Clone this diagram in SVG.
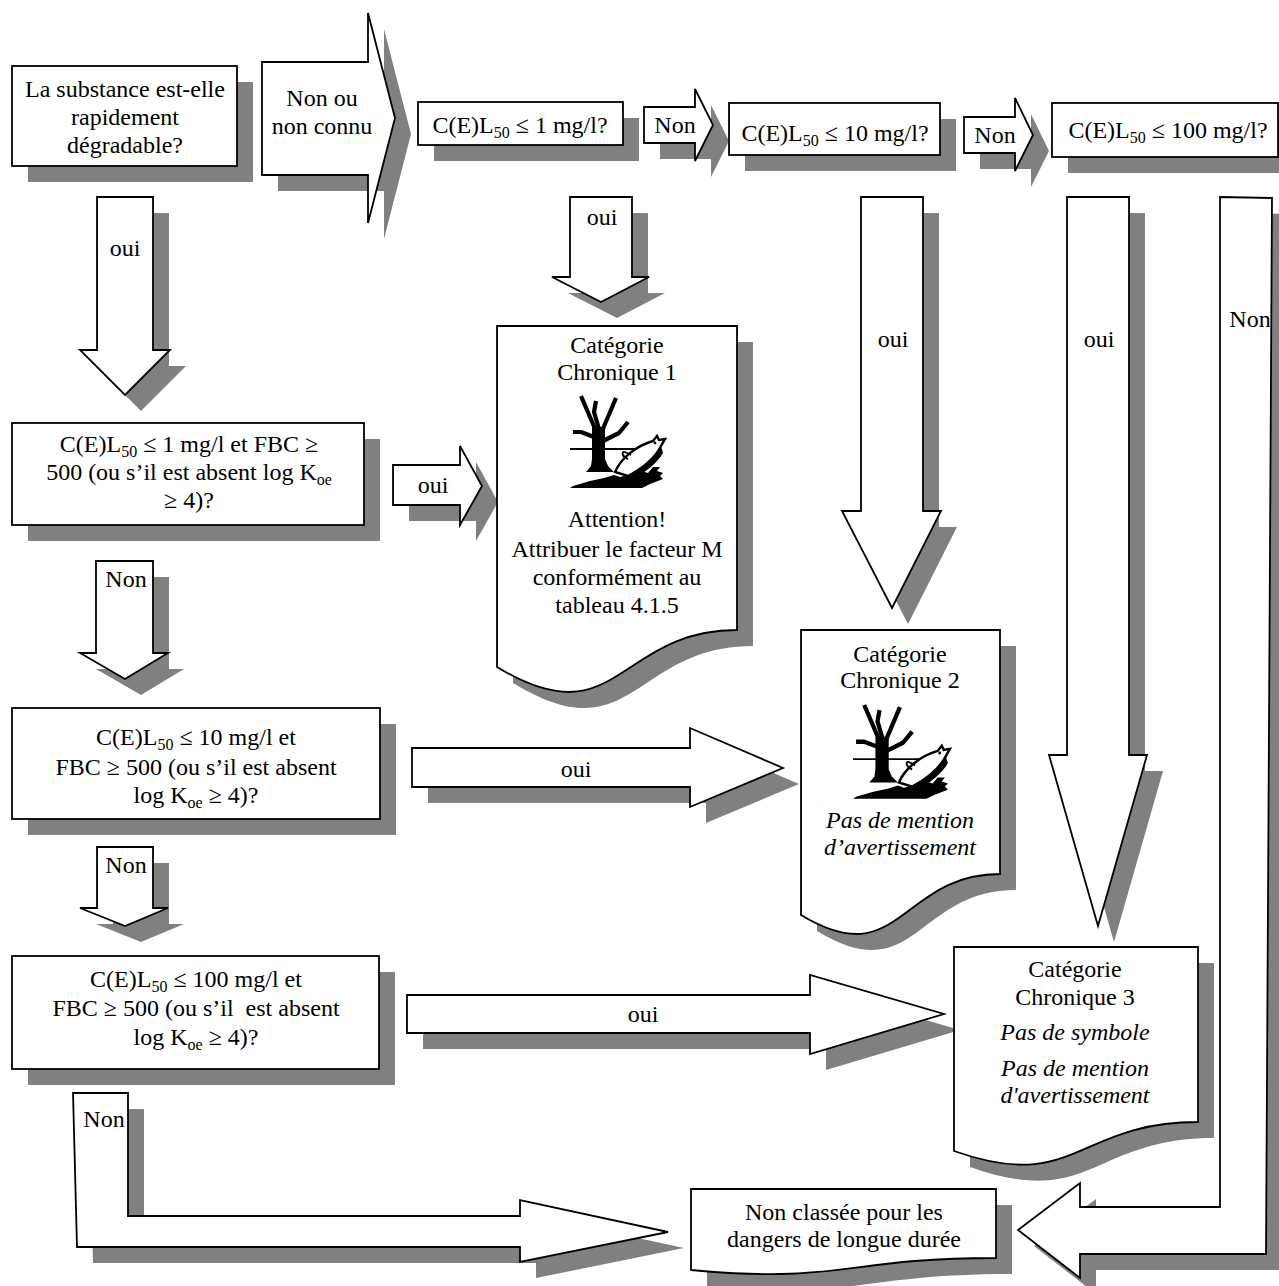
<svg xmlns="http://www.w3.org/2000/svg" xmlns:xlink="http://www.w3.org/1999/xlink" width="1279" height="1286" viewBox="0 0 1279 1286">
<style>
.sh{fill:#808080;stroke:none}
.nd{fill:#fff;stroke:#000;stroke-width:1.8;stroke-linejoin:miter}
text{font-family:"Liberation Serif","Times New Roman",serif;font-size:24px;fill:#000;text-anchor:middle}
.it{font-style:italic}
.sub{font-size:16px}
</style>
<defs>
<g id="pict">
  <path d="M22,32 L35,32 L35,64 L38,71 L44,77 L16,77 L21,71 L22,64 Z" fill="#000"/>
  <g stroke="#000" stroke-width="4.2" fill="none" stroke-linecap="butt" stroke-linejoin="round">
    <path d="M26,36 L11,1"/>
    <path d="M29,34 L24,17 L26,6"/>
    <path d="M32,36 L46,3"/>
    <path d="M24,42 L11,37 L3,37"/>
    <path d="M33,46 L49,38 L58,27"/>
  </g>
  <path d="M0,54 H66" stroke="#000" stroke-width="1.8"/>
  <path d="M45,77 C51,63 66,51 83,46 L87,41 L89,45 L95,44 L91,51 C86,61 75,72 58,81 Z" fill="#fff" stroke="#000" stroke-width="2.4" stroke-linejoin="miter"/>
  <path d="M58,81 C75,72 86,61 91,51 L93,58 C87,68 77,77 60,85 Z" fill="#000"/>
  <path d="M58,64 C52,62 51,56 55,57 L61,60" fill="none" stroke="#000" stroke-width="1.8"/>
  <circle cx="85" cy="48" r="1.4" fill="#000"/>
  <path d="M0,93 L3,91 L20,86 L34,83 L44,80 L50,82 L58,80 L66,81 L72,76 L78,78 L83,72 L90,72 L87,76 L93,78 L90,81 L93,84 L80,89 L72,93 Z" fill="#000"/>
</g>
</defs>

<g id="connectors">
  <g id="shadows-connectors" class="sh" transform="translate(16,16)">
    <polygon points="262,62 368,62 368,13 395,118 368,223 368,175 262,175"/>
    <polygon points="97,197 153,197 153,350 170,350 125,395 80,350 97,350"/>
    <polygon points="393,465 460,465 460,446 482,486 460,525 460,505 393,505"/>
    <polygon points="96,561 153,561 153,653 168,653 125,679 80,653 96,653"/>
    <polygon points="97,847 153,847 153,908 168,908 125,926 80,908 97,908"/>
    <polygon points="73,1093 128,1093 128,1216 520,1216 520,1200 668,1232 520,1262 520,1247 77,1247"/>
    <polygon points="644,107 695,107 695,89 713,125 695,161 695,143 644,143"/>
    <polygon points="964,117 1015,117 1015,98 1033,135 1015,171 1015,153 964,153"/>
    <polygon points="570,197 632,197 632,277 649,277 601,302 552,277 570,277"/>
    <polygon points="861,197 923,197 923,511 941,511 892,608 842,511 861,511"/>
    <polygon points="1067,197 1129,197 1129,755 1147,755 1098,926 1049,755 1067,755"/>
    <polygon points="1220,197 1272,198 1266,1254 1080,1254 1080,1278 1018,1230 1080,1183 1080,1207 1220,1207"/>
    <polygon points="412,748 690,748 690,728 783,768 690,807 690,787 412,787"/>
    <polygon points="407,995 810,995 810,975 944,1014 810,1054 810,1033 407,1033"/>
  </g>
  <g id="arrow-non-connu">
    <polygon class="nd" points="262,62 368,62 368,13 395,118 368,223 368,175 262,175"/>
    <text x="322" y="106">Non ou</text>
    <text x="322" y="134">non connu</text>
  </g>
  <g id="arrow-oui-1">
    <polygon class="nd" points="97,197 153,197 153,350 170,350 125,395 80,350 97,350"/>
    <text x="125" y="256">oui</text>
  </g>
  <g id="arrow-oui-2">
    <polygon class="nd" points="393,465 460,465 460,446 482,486 460,525 460,505 393,505"/>
    <text x="433" y="493">oui</text>
  </g>
  <g id="arrow-non-2">
    <polygon class="nd" points="96,561 153,561 153,653 168,653 125,679 80,653 96,653"/>
    <text x="126" y="587">Non</text>
  </g>
  <g id="arrow-non-3">
    <polygon class="nd" points="97,847 153,847 153,908 168,908 125,926 80,908 97,908"/>
    <text x="126" y="873">Non</text>
  </g>
  <g id="arrow-non-4">
    <polygon class="nd" points="73,1093 128,1093 128,1216 520,1216 520,1200 668,1232 520,1262 520,1247 77,1247"/>
    <text x="104" y="1127">Non</text>
  </g>
  <g id="arrow-non-top1">
    <polygon class="nd" points="644,107 695,107 695,89 713,125 695,161 695,143 644,143"/>
    <text x="675" y="133">Non</text>
  </g>
  <g id="arrow-non-top2">
    <polygon class="nd" points="964,117 1015,117 1015,98 1033,135 1015,171 1015,153 964,153"/>
    <text x="995" y="143">Non</text>
  </g>
  <g id="arrow-oui-top1">
    <polygon class="nd" points="570,197 632,197 632,277 649,277 601,302 552,277 570,277"/>
    <text x="602" y="225">oui</text>
  </g>
  <g id="arrow-oui-top2">
    <polygon class="nd" points="861,197 923,197 923,511 941,511 892,608 842,511 861,511"/>
    <text x="893" y="347">oui</text>
  </g>
  <g id="arrow-oui-top3">
    <polygon class="nd" points="1067,197 1129,197 1129,755 1147,755 1098,926 1049,755 1067,755"/>
    <text x="1099" y="347">oui</text>
  </g>
  <g id="arrow-non-right">
    <polygon class="nd" points="1220,197 1272,198 1266,1254 1080,1254 1080,1278 1018,1230 1080,1183 1080,1207 1220,1207"/>
    <text x="1250" y="327">Non</text>
  </g>
  <g id="arrow-oui-3">
    <polygon class="nd" points="412,748 690,748 690,728 783,768 690,807 690,787 412,787"/>
    <text x="576" y="777">oui</text>
  </g>
  <g id="arrow-oui-4">
    <polygon class="nd" points="407,995 810,995 810,975 944,1014 810,1054 810,1033 407,1033"/>
    <text x="643" y="1022">oui</text>
  </g>
</g>

<g id="node-degradable">
  <rect class="sh" x="28" y="82" width="225" height="100"/>
  <rect class="nd" x="12" y="66" width="225" height="100"/>
  <text x="125" y="97">La substance est-elle</text>
  <text x="125" y="125">rapidement</text>
  <text x="125" y="153">dégradable?</text>
</g>

<g id="node-c1">
  <rect class="sh" x="434" y="118" width="205" height="43"/>
  <rect class="nd" x="418" y="102" width="205" height="43"/>
  <text x="520" y="133">C(E)L<tspan class="sub" dy="5">50</tspan><tspan dy="-5"> ≤ 1 mg/l?</tspan></text>
</g>

<g id="node-c10">
  <rect class="sh" x="745" y="119" width="211" height="52"/>
  <rect class="nd" x="729" y="103" width="211" height="52"/>
  <text x="835" y="141">C(E)L<tspan class="sub" dy="5">50</tspan><tspan dy="-5"> ≤ 10 mg/l?</tspan></text>
</g>

<g id="node-c100">
  <rect class="sh" x="1068" y="119" width="226" height="54"/>
  <rect class="nd" x="1052" y="103" width="226" height="54"/>
  <text x="1168" y="138">C(E)L<tspan class="sub" dy="5">50</tspan><tspan dy="-5"> ≤ 100 mg/l?</tspan></text>
</g>

<g id="node-q1">
  <rect class="sh" x="28" y="439" width="352" height="102"/>
  <rect class="nd" x="12" y="423" width="352" height="102"/>
  <text x="189" y="452">C(E)L<tspan class="sub" dy="5">50</tspan><tspan dy="-5"> ≤ 1 mg/l et FBC ≥</tspan></text>
  <text x="189" y="480">500 (ou s’il est absent log K<tspan class="sub" dy="5">oe</tspan></text>
  <text x="189" y="508">≥ 4)?</text>
</g>

<g id="node-q2">
  <rect class="sh" x="28" y="724" width="368" height="111"/>
  <rect class="nd" x="12" y="708" width="368" height="111"/>
  <text x="196" y="745">C(E)L<tspan class="sub" dy="5">50</tspan><tspan dy="-5"> ≤ 10 mg/l et</tspan></text>
  <text x="196" y="775">FBC ≥ 500 (ou s’il est absent</text>
  <text x="196" y="803">log K<tspan class="sub" dy="5">oe</tspan><tspan dy="-5"> ≥ 4)?</tspan></text>
</g>

<g id="node-q3">
  <rect class="sh" x="28" y="972" width="367" height="113"/>
  <rect class="nd" x="12" y="956" width="367" height="113"/>
  <text x="196" y="987">C(E)L<tspan class="sub" dy="5">50</tspan><tspan dy="-5"> ≤ 100 mg/l et</tspan></text>
  <text x="196" y="1016" xml:space="preserve">FBC ≥ 500 (ou s’il  est absent</text>
  <text x="196" y="1045">log K<tspan class="sub" dy="5">oe</tspan><tspan dy="-5"> ≥ 4)?</tspan></text>
</g>

<g id="node-chronique1">
  <path class="sh" transform="translate(16,16)" d="M497,326 H737 V630 C617,630 617,740 497,667 Z"/>
  <path class="nd" d="M497,326 H737 V630 C617,630 617,740 497,667 Z"/>
  <text x="617" y="353">Catégorie</text>
  <text x="617" y="380">Chronique 1</text>
  <use xlink:href="#pict" transform="translate(570,395)"/>
  <text x="617" y="527">Attention!</text>
  <text x="617" y="557">Attribuer le facteur M</text>
  <text x="617" y="585">conformément au</text>
  <text x="617" y="613">tableau 4.1.5</text>
</g>

<g id="node-chronique2">
  <path class="sh" transform="translate(16,16)" d="M801,630 H1000 V874 C900,874 900,975 801,915 Z"/>
  <path class="nd" d="M801,630 H1000 V874 C900,874 900,975 801,915 Z"/>
  <text x="900" y="662">Catégorie</text>
  <text x="900" y="688">Chronique 2</text>
  <use xlink:href="#pict" transform="translate(853,704) scale(1.02)"/>
  <text class="it" x="900" y="828">Pas de mention</text>
  <text class="it" x="900" y="855">d’avertissement</text>
</g>

<g id="node-chronique3">
  <path class="sh" transform="translate(16,16)" d="M954,947 H1198 V1122 C1076,1122 1076,1194 954,1151 Z"/>
  <path class="nd" d="M954,947 H1198 V1122 C1076,1122 1076,1194 954,1151 Z"/>
  <text x="1075" y="977">Catégorie</text>
  <text x="1075" y="1005">Chronique 3</text>
  <text class="it" x="1075" y="1040">Pas de symbole</text>
  <text class="it" x="1075" y="1076">Pas de mention</text>
  <text class="it" x="1075" y="1103">d'avertissement</text>
</g>

<g id="node-non-classee">
  <path class="sh" transform="translate(16,16)" d="M691,1189 H996 V1258 C843,1258 843,1284 691,1270 Z"/>
  <path class="nd" d="M691,1189 H996 V1258 C843,1258 843,1284 691,1270 Z"/>
  <text x="844" y="1220">Non classée pour les</text>
  <text x="844" y="1247">dangers de longue durée</text>
</g>
</svg>
